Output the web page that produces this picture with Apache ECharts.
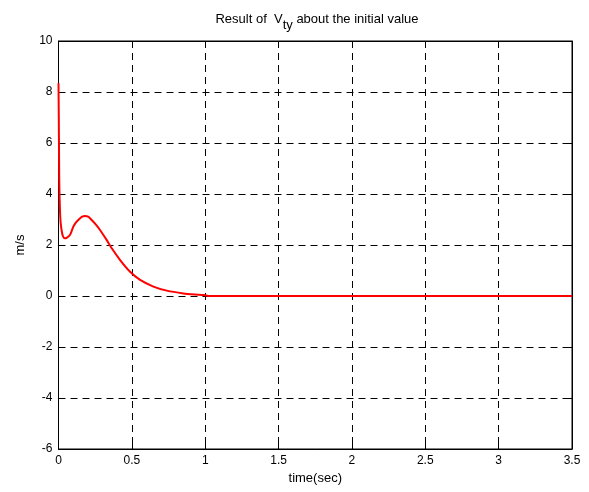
<!DOCTYPE html>
<html>
<head>
<meta charset="utf-8">
<script src="https://cdn.jsdelivr.net/npm/echarts@6/dist/echarts.min.js"></script>
<style>
  html, body { margin: 0; padding: 0; background: #fff; }
  #chart { width: 589px; height: 492px; }
</style>
</head>
<body>
<div id="chart"></div>
<script>
// time (sec) and Vty (m/s)
var times = [0, 0.002, 0.005, 0.008, 0.012, 0.016, 0.022, 0.03, 0.044, 0.06, 0.078, 0.09, 0.101, 0.118, 0.135, 0.158, 0.181, 0.205, 0.226, 0.255, 0.283, 0.328, 0.363, 0.42, 0.488, 0.556, 0.647, 0.738, 0.852, 0.93, 0.99, 1.03, 1.5, 2, 2.5, 3, 3.5]
var values = [8.34, 7.0, 4.6, 3.7, 3.1, 2.8, 2.55, 2.35, 2.26, 2.3, 2.39, 2.55, 2.72, 2.88, 2.98, 3.1, 3.14, 3.1, 2.98, 2.8, 2.59, 2.2, 1.87, 1.41, 0.95, 0.63, 0.37, 0.21, 0.1, 0.06, 0.04, 0, 0, 0, 0, 0, 0]
var xTicks = [0, 0.5, 1, 1.5, 2, 2.5, 3, 3.5]
var yTicks = [-6, -4, -2, 0, 2, 4, 6, 8, 10]

var font = 'Liberation Sans, Arial, sans-serif'
var chart = echarts.init(document.getElementById('chart'))

function axisBase () {
  return {
    axisLine: { show: true, onZero: false, lineStyle: { color: '#000', width: 1 } },
    axisTick: { show: true, inside: true, length: 5, lineStyle: { color: '#000' } },
    splitLine: { show: false },
    axisLabel: { show: false }
  }
}

var option = {
  animation: false,
  backgroundColor: '#fff',
  title: {
    text: '{a|Result of  V}{s|ty}{a| about the initial value}',
    left: 312,
    textAlign: 'center',
    top: 2,
    textStyle: {
      fontWeight: 'normal',
      rich: {
        a: { fontFamily: font, fontSize: 13, fontWeight: 'normal', color: '#000' },
        s: { fontFamily: font, fontSize: 13, fontWeight: 'normal', color: '#000', padding: [12, 0, 0, 0] }
      }
    }
  },
  grid: {
    left: 58.5, right: 17, top: 41, bottom: 43,
    show: true, borderColor: '#000', borderWidth: 1
  },
  xAxis: [
    Object.assign(axisBase(), {
      type: 'value', min: 0, max: 3.5, interval: 0.5, position: 'bottom',
      name: 'time(sec)', nameLocation: 'middle', nameGap: 21,
      nameTextStyle: { fontFamily: font, fontSize: 13, color: '#000' },
      splitLine: { show: true, lineStyle: { color: '#000', type: [7, 5], width: 1 } },
      axisLabel: {
        show: true, fontFamily: font, fontSize: 12, color: '#000', margin: 6,
        formatter: function (v) { return xTicks.indexOf(v) >= 0 ? String(v) : '' }
      }
    }),
    Object.assign(axisBase(), { type: 'value', min: 0, max: 3.5, interval: 0.5, position: 'top' })
  ],
  yAxis: [
    Object.assign(axisBase(), {
      type: 'value', min: -6, max: 10, interval: 2, position: 'left',
      name: 'm/s', nameLocation: 'middle', nameGap: 32, nameRotate: 90,
      nameTextStyle: { fontFamily: font, fontSize: 13, color: '#000' },
      splitLine: { show: true, lineStyle: { color: '#000', type: [7, 5], width: 1 } },
      axisLabel: {
        show: true, fontFamily: font, fontSize: 12, color: '#000', margin: 6,
        formatter: function (v) { return yTicks.indexOf(v) >= 0 ? String(v) : '' }
      }
    }),
    Object.assign(axisBase(), { type: 'value', min: -6, max: 10, interval: 2, position: 'right' })
  ],
  series: [{
    type: 'line',
    data: times.map(function (t, i) { return [t, values[i]] }),
    showSymbol: false,
    smooth: 0.2,
    lineStyle: { color: '#ff0000', width: 2 },
    itemStyle: { color: '#ff0000' }
  }]
}

chart.setOption(option)
</script>
</body>
</html>
